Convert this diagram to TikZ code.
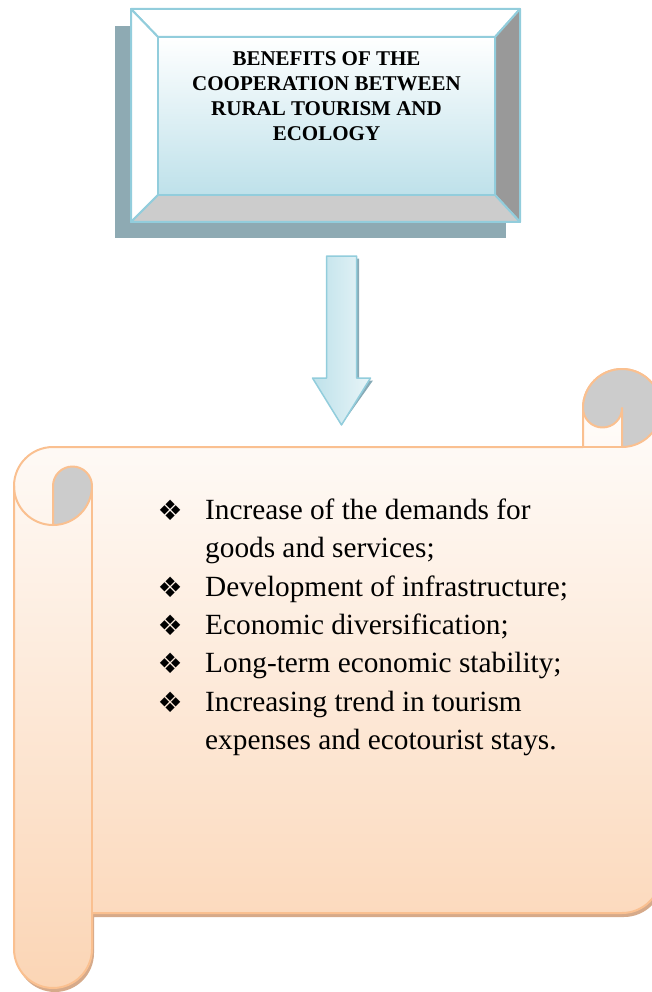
\documentclass[tikz,border=0pt]{standalone}
\usepackage{fontspec}
\setmainfont{Liberation Serif}
\newfontfamily\dejavu{DejaVu Sans}

\definecolor{frameblue}{RGB}{146,205,220}
\definecolor{paleblue}{RGB}{190,225,234}
\definecolor{boxshadow}{RGB}{142,170,179}
\definecolor{arrowshadow}{RGB}{135,170,182}
\definecolor{scrollline}{RGB}{250,192,144}
\definecolor{scrollfill}{RGB}{251,213,181}
\definecolor{scrollshadow}{RGB}{214,170,138}
\definecolor{curlgrey}{RGB}{204,204,204}

\newcommand{\bul}{\makebox[40pt][c]{\dejavu\fontsize{28}{28}\selectfont\raisebox{-1pt}{❖}}}

\begin{document}
\begin{tikzpicture}[x=1pt,y=1pt]
\tikzstyle{bevel} = [draw=frameblue, line width=2pt, line join=round]
\tikzstyle{scroll} = [draw=scrollline, line width=2pt, line join=round]
\tikzstyle{heading} = [font=\bfseries\fontsize{21}{25}\selectfont, align=center, inner sep=0pt]
\tikzstyle{itemlist} = [font=\fontsize{29.3}{38.3}\selectfont, inner sep=0pt, anchor=north west]

\useasboundingbox (0,0) rectangle (652,-992);
\clip (0,0) rectangle (652,-992);

% title box
\fill[boxshadow] (115,-26) rectangle (506,-238);
\filldraw[bevel, fill=white] (131,-9) -- (520,-9) -- (495,-37) -- (158,-37) -- cycle;
\filldraw[bevel, fill=white] (131,-9) -- (158,-37) -- (158,-195) -- (131,-222) -- cycle;
\filldraw[bevel, fill=curlgrey!75!black] (520,-9) -- (520,-222) -- (495,-195) -- (495,-37) -- cycle;
\filldraw[bevel, fill=curlgrey] (131,-222) -- (520,-222) -- (495,-195) -- (158,-195) -- cycle;
\path[bevel, top color=white, bottom color=paleblue] (158,-37) rectangle (495,-195);
\node[heading, anchor=north] (title) at (326.5,-51.5)
  {BENEFITS OF THE\\COOPERATION BETWEEN\\RURAL TOURISM AND\\ECOLOGY};

% block arrow
\coordinate (arrowtip) at (341.5,-425);
\fill[arrowshadow, shift={(2.5,-2.5)}] (326.5,-256) -- (356.5,-256) -- (356.5,-378)
  -- (370.5,-378) -- (arrowtip) -- (312.5,-378) -- (326.5,-378) -- cycle;
\path[bevel, line width=1.5pt, left color=paleblue, right color=paleblue!35] (326.5,-256) -- (356.5,-256) -- (356.5,-378)
  -- (370.5,-378) -- (arrowtip) -- (312.5,-378) -- (326.5,-378) -- cycle;

% scroll
\fill[scrollshadow, shift={(2,-4)}] (53,-447) -- (583,-447) -- (583,-408)
  arc[start angle=180, end angle=0, radius=39] -- (661,-874)
  arc[start angle=0, end angle=-90, radius=39] -- (92,-913) -- (92,-949)
  arc[start angle=0, end angle=-180, radius=39] -- (14,-486)
  arc[start angle=180, end angle=90, radius=39] -- cycle;
\path[scroll, top color=white, bottom color=scrollfill] (53,-447) -- (583,-447) -- (583,-408)
  arc[start angle=180, end angle=0, radius=39] -- (661,-874)
  arc[start angle=0, end angle=-90, radius=39] -- (92,-913) -- (92,-949)
  arc[start angle=0, end angle=-180, radius=39] -- (14,-486)
  arc[start angle=180, end angle=90, radius=39] -- cycle;
\draw[scroll] (92,-486) -- (92,-913);
\draw[scroll] (14,-486) arc[start angle=180, end angle=270, radius=39];
\filldraw[scroll, fill=curlgrey] (53,-486) arc[start angle=180, end angle=0, radius=19.5]
  arc[start angle=0, end angle=-90, radius=39] -- cycle;
\filldraw[scroll, fill=curlgrey] (583,-408) arc[start angle=180, end angle=-90, radius=39]
  -- (622,-408) arc[start angle=0, end angle=-180, radius=19.5] -- cycle;
\draw[scroll] (583,-447) -- (622,-447);

% list
\node[itemlist] (items) at (150,-492.5) {%
\begin{tabular}{@{}l@{\hspace{15pt}}l@{}}
\bul & Increase of the demands for\\
     & goods and services;\\
\bul & Development of infrastructure;\\
\bul & Economic diversification;\\
\bul & Long-term economic stability;\\
\bul & Increasing trend in tourism\\
     & expenses and ecotourist stays.
\end{tabular}};

\end{tikzpicture}
\end{document}
